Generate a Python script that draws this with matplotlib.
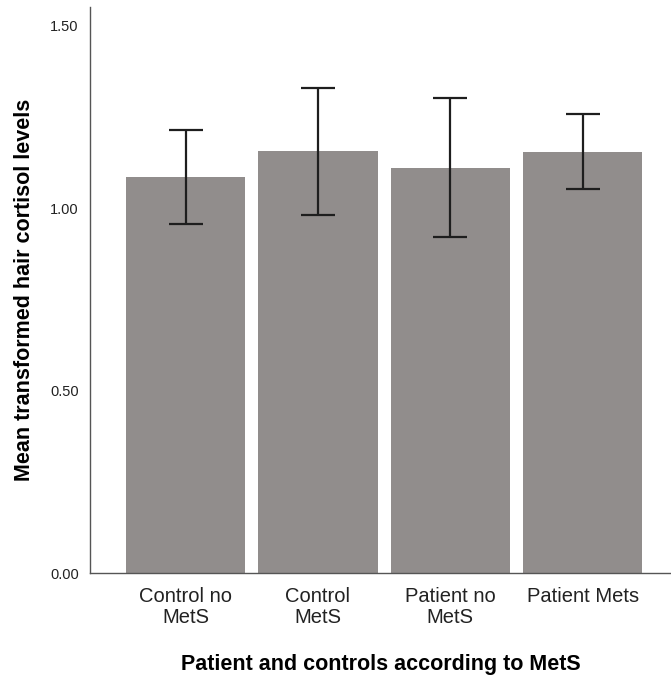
import matplotlib
matplotlib.use("Agg")
import matplotlib.pyplot as plt
import numpy as np

# Group labels and summary statistics
groups = ["Control no\nMetS", "Control\nMetS", "Patient no\nMetS", "Patient Mets"]
means = [1.085, 1.157, 1.111, 1.155]
ci_low = [0.957, 0.982, 0.922, 1.052]
ci_high = [1.214, 1.330, 1.302, 1.258]
yticks = [0.0, 0.5, 1.0, 1.5]

plt.rcParams["font.family"] = ["Liberation Sans", "DejaVu Sans"]

fig = plt.figure(figsize=(6.71, 6.80), dpi=100)
ax = fig.add_axes([0.134, 0.157, 0.866, 0.833])

x = np.arange(len(groups))
means_a = np.array(means)
yerr = np.vstack([means_a - np.array(ci_low), np.array(ci_high) - means_a])

ax.bar(x, means_a, width=0.9, color="#918d8c", edgecolor="none", zorder=2)
ax.errorbar(x, means_a, yerr=yerr, fmt="none", ecolor="#1e1e1e",
            elinewidth=1.6, capsize=12, capthick=1.6, zorder=3)

ax.set_xlim(-0.723, 3.667)
ax.set_ylim(0, 1.552)
ax.set_yticks(yticks)
ax.set_yticklabels([f"{v:.2f}" for v in yticks], fontsize=10.5, color="#222222")
ax.set_xticks(x)
ax.set_xticklabels(groups, fontsize=14.5, color="#222222", linespacing=1.15)
ax.tick_params(axis="both", length=0)
ax.tick_params(axis="y", pad=8)
ax.tick_params(axis="x", pad=10)

for side in ["top", "right"]:
    ax.spines[side].set_visible(False)
for side in ["left", "bottom"]:
    ax.spines[side].set_color("#555555")
    ax.spines[side].set_linewidth(1.0)

ax.set_ylabel("Mean transformed hair cortisol levels", fontsize=15.5,
              fontweight="bold", labelpad=11)
ax.set_xlabel("Patient and controls according to MetS", fontsize=15.5,
              fontweight="bold", labelpad=19)

fig.savefig("out.png", dpi=100)
